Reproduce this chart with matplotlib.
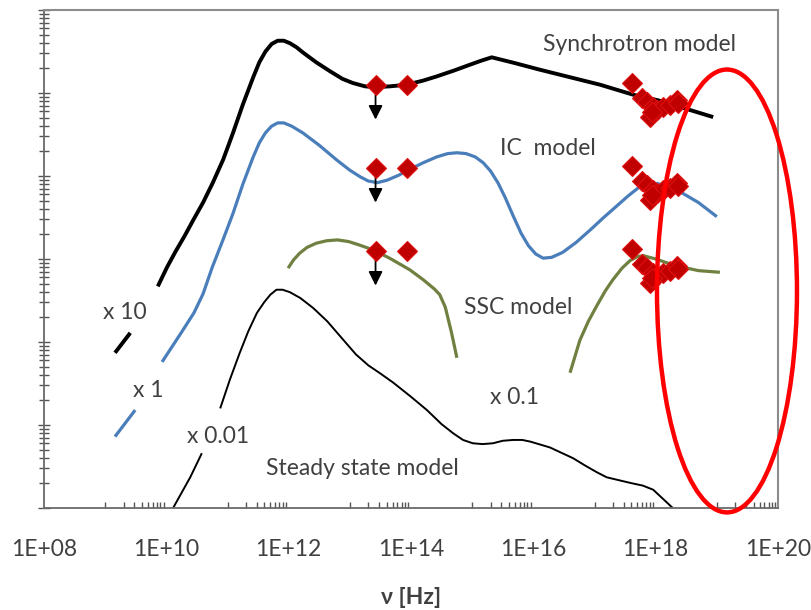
import numpy as np
import matplotlib
matplotlib.use("Agg")
import matplotlib.pyplot as plt
from matplotlib.patches import Ellipse
from matplotlib.ticker import FixedLocator, FuncFormatter, NullFormatter, LogLocator

plt.rcParams['font.family'] = ['Lato', 'DejaVu Sans']

# log10(nu [Hz]) and log10(nu F_nu, arbitrary units) of each model curve
sync_a_x = [9.16, 9.41]
sync_a_y = [1.87, 2.11]
sync_b_x = [9.86, 10.01, 10.15, 10.30, 10.44, 10.60, 10.76, 10.93, 11.09, 11.25, 11.42,
            11.52, 11.62, 11.72, 11.82, 11.92, 12.02, 12.13, 12.23, 12.45, 12.68, 12.88,
            13.05, 13.25, 13.41, 13.65, 13.93, 14.20, 14.42, 14.70, 14.96, 15.15, 15.32,
            15.70, 16.11, 16.60, 17.09, 17.63, 18.05, 18.45, 18.94]
sync_b_y = [2.67, 2.90, 3.09, 3.28, 3.47, 3.68, 3.92, 4.20, 4.52, 4.86, 5.19,
            5.37, 5.50, 5.59, 5.63, 5.63, 5.60, 5.55, 5.49, 5.37, 5.26, 5.17,
            5.12, 5.08, 5.07, 5.08, 5.10, 5.15, 5.20, 5.27, 5.34, 5.39, 5.43,
            5.36, 5.28, 5.19, 5.10, 4.98, 4.91, 4.82, 4.71]

ic_a_x = [9.16, 9.49]
ic_a_y = [0.86, 1.18]
ic_b_x = [9.93, 10.25, 10.45, 10.60, 10.75, 10.92, 11.09, 11.25, 11.42, 11.52, 11.62,
          11.72, 11.82, 11.92, 12.05, 12.23, 12.50, 12.79, 13.00, 13.17, 13.30, 13.45,
          13.61, 13.80, 13.98, 14.20, 14.42, 14.60, 14.75, 14.90, 15.05, 15.18, 15.30,
          15.42, 15.54, 15.67, 15.80, 15.92, 16.04, 16.16, 16.30, 16.48, 16.70, 16.93,
          17.15, 17.35, 17.55, 17.72, 17.88, 18.02, 18.18, 18.40, 18.70, 19.00]
ic_b_y = [1.76, 2.12, 2.35, 2.58, 2.90, 3.22, 3.55, 3.90, 4.23, 4.40, 4.52,
          4.60, 4.64, 4.64, 4.60, 4.52, 4.37, 4.19, 4.07, 3.99, 3.94, 3.92,
          3.95, 4.01, 4.08, 4.16, 4.23, 4.27, 4.28, 4.27, 4.23, 4.16, 4.06,
          3.92, 3.74, 3.52, 3.31, 3.16, 3.06, 3.01, 3.02, 3.08, 3.20, 3.35,
          3.50, 3.63, 3.76, 3.86, 3.91, 3.91, 3.88, 3.81, 3.68, 3.51]

ssc_a_x = [11.99, 12.08, 12.18, 12.30, 12.45, 12.62, 12.80, 12.98, 13.15, 13.38, 13.65,
           13.98, 14.20, 14.38, 14.47, 14.56, 14.66, 14.75]
ssc_a_y = [2.89, 2.99, 3.07, 3.14, 3.19, 3.22, 3.23, 3.21, 3.17, 3.11, 3.01,
           2.87, 2.75, 2.64, 2.57, 2.42, 2.12, 1.81]
ssc_b_x = [16.60, 16.76, 16.90, 17.04, 17.18, 17.30, 17.45, 17.58, 17.70, 17.80, 18.00,
           18.20, 18.45, 18.70, 19.05]
ssc_b_y = [1.63, 2.02, 2.25, 2.44, 2.62, 2.75, 2.89, 2.98, 3.03, 3.04, 3.00,
           2.95, 2.90, 2.86, 2.84]

ss_a_x = [10.11, 10.39, 10.58]
ss_a_y = [0.0, 0.37, 0.66]
ss_b_x = [10.88, 11.04, 11.20, 11.34, 11.48, 11.60, 11.70, 11.80, 11.90, 12.02, 12.19,
          12.40, 12.63, 12.90, 13.10, 13.30, 13.50, 13.71, 14.00, 14.26, 14.50, 14.69,
          14.85, 15.01, 15.17, 15.34, 15.50, 15.67, 15.82, 15.95, 16.27, 16.65, 16.85,
          17.04, 17.20, 17.37, 17.60, 17.79, 17.96, 18.12, 18.28]
ss_b_y = [1.20, 1.55, 1.87, 2.13, 2.35, 2.48, 2.57, 2.63, 2.63, 2.60, 2.53,
          2.41, 2.25, 2.02, 1.85, 1.72, 1.62, 1.51, 1.34, 1.18, 1.01, 0.90,
          0.82, 0.78, 0.77, 0.78, 0.81, 0.82, 0.82, 0.80, 0.73, 0.60, 0.51,
          0.43, 0.37, 0.34, 0.30, 0.27, 0.22, 0.11, 0.0]

# observed points (x1 scale); first optical point is an upper limit
obs_x = [13.42, 13.93, 17.61, 17.78, 17.86, 17.96, 17.91, 18.02, 18.12, 18.23, 18.35,
         18.36, 17.94]
obs_y = [4.10, 4.10, 4.12, 3.94, 3.89, 3.83, 3.71, 3.80, 3.83, 3.86, 3.92,
         3.88, 3.77]
upper_limit_x = 13.42
upper_limit_y = 4.10
obs_scales = [10, 1, 0.1]

x_major = [1e8, 1e10, 1e12, 1e14, 1e16, 1e18, 1e20]

fig = plt.figure(figsize=(8.11, 6.10), dpi=100)
ax = fig.add_axes([0.0543, 0.1672, 0.905, 0.8164])


def p(v):
    return 10 ** np.asarray(v, dtype=float)


line = dict(solid_capstyle='butt', solid_joinstyle='round')
ax.plot(p(sync_a_x), p(sync_a_y), color='black', lw=2.8, **line)
ax.plot(p(sync_b_x), p(sync_b_y), color='black', lw=2.8, **line)
ax.plot(p(ic_a_x), p(ic_a_y), color='#4a7ebb', lw=2.3, **line)
ax.plot(p(ic_b_x), p(ic_b_y), color='#4a7ebb', lw=2.3, **line)
ax.plot(p(ssc_a_x), p(ssc_a_y), color='#6f8040', lw=2.3, **line)
ax.plot(p(ssc_b_x), p(ssc_b_y), color='#6f8040', lw=2.3, **line)
ax.plot(p(ss_a_x), p(ss_a_y), color='black', lw=1.4, **line)
ax.plot(p(ss_b_x), p(ss_b_y), color='black', lw=1.4, **line)

for s in obs_scales:
    ax.annotate('', xy=(p(upper_limit_x), p(upper_limit_y) * s * 0.38),
                xytext=(p(upper_limit_x), p(upper_limit_y) * s),
                arrowprops=dict(arrowstyle='-|>', color='black', lw=1.3,
                                mutation_scale=21, shrinkA=0, shrinkB=0),
                zorder=3)
    ax.plot(p(obs_x), p(obs_y) * s, linestyle='none', marker='D', ms=10,
            mfc='#c00000', mec='#e01010', mew=0.8, zorder=4)

txt = dict(fontsize=16.5, color='#404040', ha='center', va='center')
ax.text(p(17.74), p(5.58), 'Synchrotron model', **txt)
ax.text(p(16.24), p(4.33), 'IC  model', **txt)
ax.text(p(15.75), p(2.41), 'SSC model', **txt)
ax.text(p(15.70), p(1.33), 'x 0.1', **txt)
ax.text(p(13.20), p(0.48), 'Steady state model', **txt)
ax.text(p(9.32), p(2.36), 'x 10', **txt)
ax.text(p(9.70), p(1.42), 'x 1', **txt)
ax.text(p(10.84), p(0.86), 'x 0.01', **txt)

ax.set_xscale('log')
ax.set_yscale('log')
ax.set_xlim(1e8, 1e20)
ax.set_ylim(1, 1e6)

ax.xaxis.set_major_locator(FixedLocator(x_major))
ax.xaxis.set_major_formatter(FuncFormatter(lambda v, _: '1E+%02d' % round(np.log10(v))))
x_minor = [k * 10.0 ** e for e in range(9, 20, 2) for k in range(1, 10)]
ax.xaxis.set_minor_locator(FixedLocator(x_minor))
ax.xaxis.set_minor_formatter(NullFormatter())
ax.tick_params(axis='x', which='major', length=0, pad=22, labelsize=16.5, labelcolor='#404040')
ax.tick_params(axis='x', which='minor', direction='in', length=4, width=1, color='#555555')

ax.yaxis.set_major_locator(LogLocator(base=10, numticks=20))
ax.yaxis.set_minor_locator(LogLocator(base=10, subs=np.arange(2, 10), numticks=20))
ax.yaxis.set_major_formatter(NullFormatter())
ax.yaxis.set_minor_formatter(NullFormatter())
ax.tick_params(axis='y', which='major', direction='inout', length=9, width=1, color='#555555')
ax.tick_params(axis='y', which='minor', direction='inout', length=7, width=1, color='#555555')

for side in ['left', 'bottom']:
    ax.spines[side].set_color('#6a6a6a')
    ax.spines[side].set_linewidth(1.3)
for side in ['top', 'right']:
    ax.spines[side].set_color('#8c8c8c')
    ax.spines[side].set_linewidth(1.5)

ax.set_xlabel('ν [Hz]', fontsize=16.5, fontweight='bold', color='#404040', labelpad=20)

fig.add_artist(Ellipse((0.8964, 0.523), 0.1726, 0.726, transform=fig.transFigure,
                       fill=False, edgecolor='#ff0000', lw=3.2))

fig.savefig('out.png', dpi=100)
